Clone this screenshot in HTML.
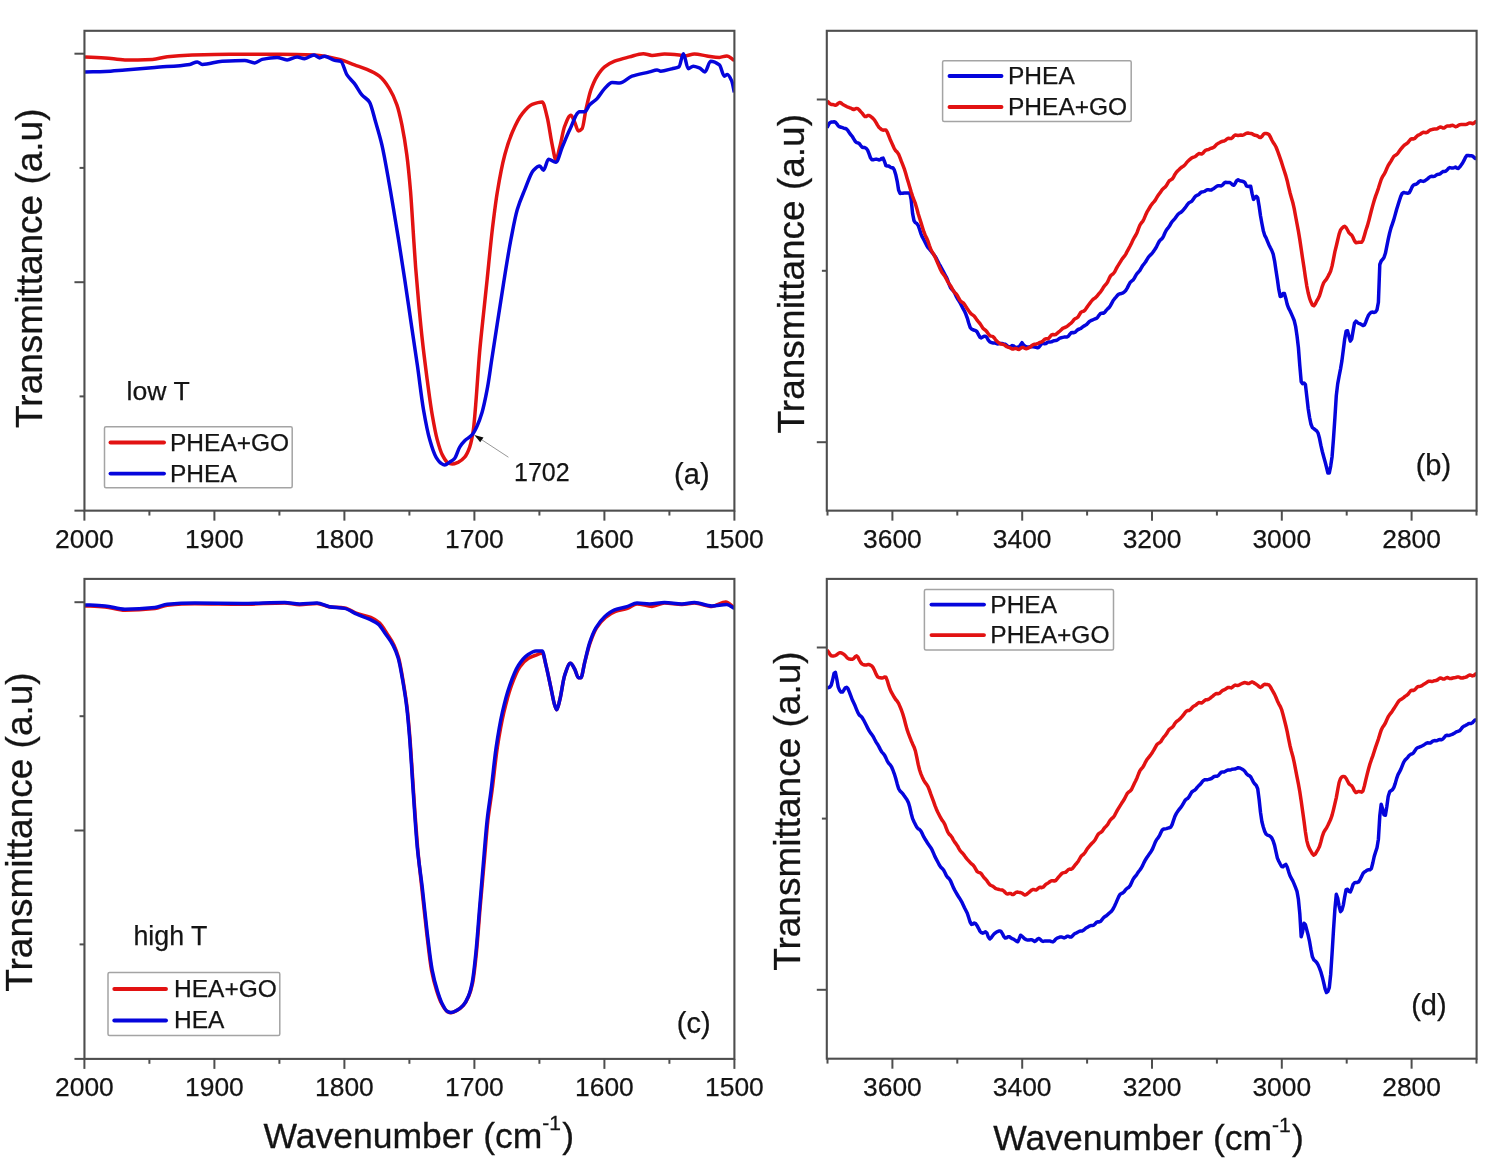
<!DOCTYPE html>
<html><head><meta charset="utf-8"><title>FTIR spectra</title>
<style>html,body{margin:0;padding:0;background:#fff;}svg{display:block;}svg text{font-family:"Liberation Sans",sans-serif;}</style></head>
<body>
<svg width="1507" height="1172" viewBox="0 0 1507 1172"  fill="#141414">
<rect width="1507" height="1172" fill="#fff"/>
<clipPath id="cpa"><rect x="84.45" y="30.8" width="649.95" height="479.85"/></clipPath>
<g clip-path="url(#cpa)">
<path d="M85.0,56.9 C91.7,57.2 98.3,57.5 105.0,57.9 C111.6,58.3 118.3,59.9 124.9,59.9 C134.1,59.9 143.2,59.7 152.4,59.4 C157.4,59.2 162.3,57.2 167.3,56.7 C175.6,55.8 184.0,55.3 192.3,55.0 C204.8,54.6 217.2,54.2 229.7,54.2 C246.3,54.2 263.0,54.2 279.6,54.2 C291.2,54.2 302.9,54.5 314.5,55.0 C322.8,55.4 331.2,57.4 339.5,59.4 C344.5,60.6 349.5,63.1 354.5,64.9 C358.6,66.4 362.8,67.6 366.9,69.4 C371.1,71.2 375.2,73.0 379.4,76.2 C382.7,78.8 386.1,83.3 389.4,88.6 C391.9,92.6 394.4,97.7 396.9,104.9 C398.6,109.7 400.2,116.8 401.9,124.8 C403.5,132.7 405.2,142.3 406.8,154.8 C408.1,164.5 409.3,176.9 410.6,192.2 C411.4,202.2 412.3,217.1 413.1,229.6 C413.9,242.1 414.8,256.0 415.6,267.0 C416.7,281.1 417.7,292.9 418.8,304.5 C420.0,317.2 421.1,329.2 422.3,339.8 C423.9,354.6 425.6,367.4 427.2,379.7 C428.9,392.3 430.5,405.0 432.2,414.7 C433.9,424.4 435.5,433.4 437.2,439.6 C438.9,445.8 440.5,451.3 442.2,454.6 C443.9,457.9 445.5,461.0 447.2,462.1 C448.9,463.2 450.5,464.1 452.2,464.1 C454.3,464.1 456.3,463.0 458.4,462.1 C460.5,461.1 462.6,459.5 464.7,457.1 C466.4,455.2 468.0,451.9 469.7,447.1 C470.9,443.6 472.2,438.0 473.4,429.6 C474.2,423.9 475.1,412.2 475.9,402.2 C477.1,387.4 478.4,366.3 479.6,352.3 C480.9,337.9 482.1,327.1 483.4,314.9 C484.6,303.0 485.9,291.7 487.1,279.9 C488.8,263.3 490.6,244.2 492.3,229.6 C494.0,215.6 495.6,202.3 497.3,192.2 C499.8,177.0 502.3,164.2 504.8,154.8 C507.3,145.4 509.8,138.1 512.3,132.3 C515.6,124.5 519.0,117.7 522.3,113.6 C525.6,109.5 528.9,105.7 532.2,104.4 C535.5,103.1 538.9,101.9 542.2,101.9 C543.9,101.9 545.5,110.7 547.2,117.3 C548.9,123.9 550.5,137.1 552.2,144.8 C553.4,150.5 554.7,159.7 555.9,159.7 C557.2,159.7 558.4,151.9 559.7,147.3 C561.4,141.2 563.0,130.3 564.7,126.1 C566.8,120.9 568.8,115.3 570.9,115.3 C572.2,115.3 573.4,119.7 574.7,122.3 C575.9,124.8 577.2,131.0 578.4,131.0 C579.6,131.0 580.9,130.0 582.1,128.6 C583.4,127.2 584.6,115.4 585.9,109.8 C587.6,102.4 589.2,94.7 590.9,89.9 C593.0,84.0 595.0,79.5 597.1,76.2 C599.6,72.2 602.1,68.9 604.6,66.9 C607.9,64.2 611.3,62.5 614.6,61.2 C619.6,59.3 624.5,58.2 629.5,56.9 C634.1,55.7 638.7,53.7 643.3,53.7 C646.2,53.7 649.1,55.4 652.0,55.4 C656.2,55.4 660.3,54.0 664.5,54.0 C669.5,54.0 674.4,54.5 679.4,55.0 C681.1,55.2 682.7,55.9 684.4,55.9 C687.7,55.9 691.1,54.0 694.4,54.0 C698.6,54.0 702.7,55.3 706.9,55.9 C711.1,56.5 715.2,57.4 719.4,57.4 C721.9,57.4 724.3,55.9 726.8,55.9 C729.3,55.9 731.8,58.9 734.3,60.4" fill="none" stroke="#e21212" stroke-width="3.5" stroke-linejoin="round" stroke-linecap="butt"/>
<path d="M85.0,71.9 C91.7,71.7 98.3,71.7 105.0,71.4 C111.6,71.2 118.3,70.4 124.9,69.9 C134.9,69.1 144.9,68.2 154.9,67.4 C166.5,66.4 178.2,66.2 189.8,64.4 C192.3,64.0 194.8,61.9 197.3,61.9 C199.0,61.9 200.6,64.4 202.3,64.4 C208.9,64.4 215.6,61.6 222.2,61.2 C229.7,60.8 237.2,60.4 244.7,60.4 C248.0,60.4 251.4,62.9 254.7,62.9 C257.2,62.9 259.6,59.9 262.1,59.4 C267.1,58.3 272.1,57.4 277.1,57.4 C280.4,57.4 283.8,59.9 287.1,59.9 C290.4,59.9 293.8,56.9 297.1,56.9 C299.6,56.9 302.1,58.7 304.6,58.7 C307.7,58.7 310.9,55.0 314.0,55.0 C315.8,55.0 317.7,57.9 319.5,57.9 C321.2,57.9 322.8,56.2 324.5,56.2 C327.8,56.2 331.2,59.8 334.5,60.4 C336.6,60.8 338.6,60.7 340.7,61.2 C342.8,61.7 344.9,71.7 347.0,74.9 C349.5,78.7 352.0,80.3 354.5,83.6 C357.0,86.9 359.4,92.0 361.9,94.9 C364.4,97.8 366.9,98.2 369.4,101.9 C371.5,105.0 373.6,115.1 375.7,122.3 C377.8,129.4 379.8,135.9 381.9,144.8 C384.4,155.5 386.9,170.6 389.4,184.7 C391.9,198.8 394.4,214.4 396.9,229.6 C397.5,233.0 398.0,236.5 398.6,240.0 C400.7,252.9 402.7,266.2 404.8,279.9 C406.9,293.6 408.9,308.3 411.0,322.3 C413.1,336.6 415.2,350.1 417.3,364.8 C419.4,379.2 421.4,397.7 423.5,409.7 C425.6,421.7 427.6,432.3 429.7,439.6 C431.8,447.0 433.9,453.6 436.0,457.1 C437.7,459.9 439.3,462.2 441.0,463.3 C442.2,464.1 443.5,465.0 444.7,465.0 C446.4,465.0 448.0,463.2 449.7,462.1 C451.4,461.0 453.0,460.2 454.7,458.3 C456.4,456.4 458.0,449.8 459.7,447.1 C461.4,444.4 463.0,442.5 464.7,440.8 C467.2,438.3 469.7,437.5 472.2,434.6 C473.8,432.7 475.5,429.4 477.1,425.9 C478.8,422.3 480.4,417.9 482.1,412.2 C483.8,406.5 485.4,398.6 487.1,389.7 C488.8,380.8 490.4,368.1 492.1,357.3 C493.8,346.5 495.4,335.6 497.1,324.8 C499.2,311.4 501.2,297.7 503.3,284.9 C505.8,269.4 508.3,253.1 510.8,240.0 C513.0,228.7 515.1,217.0 517.3,209.6 C519.8,201.1 522.3,195.8 524.8,189.7 C527.7,182.6 530.6,173.1 533.5,170.2 C535.6,168.1 537.6,166.0 539.7,166.0 C541.0,166.0 542.2,170.2 543.5,170.2 C545.2,170.2 546.8,159.2 548.5,159.2 C551.0,159.2 553.4,162.2 555.9,162.2 C558.0,162.2 560.1,152.2 562.2,147.3 C564.7,141.4 567.2,134.9 569.7,129.8 C573.0,123.0 576.3,111.8 579.6,111.8 C581.3,111.8 582.9,111.8 584.6,111.8 C586.3,111.8 587.9,106.7 589.6,104.9 C592.1,102.2 594.6,101.2 597.1,98.6 C599.6,96.0 602.1,91.2 604.6,88.6 C607.1,86.0 609.6,82.4 612.1,82.4 C614.6,82.4 617.1,82.9 619.6,82.9 C623.7,82.9 627.9,77.6 632.0,76.2 C637.8,74.2 643.7,73.4 649.5,71.9 C652.0,71.3 654.5,69.9 657.0,69.9 C658.2,69.9 659.5,71.2 660.7,71.2 C664.5,71.2 668.2,69.6 672.0,68.7 C674.3,68.1 676.6,68.1 678.9,66.9 C680.4,66.1 681.9,53.7 683.4,53.7 C685.0,53.7 686.6,68.7 688.2,68.7 C689.9,68.7 691.5,66.2 693.2,66.2 C695.3,66.2 697.3,67.1 699.4,67.9 C701.2,68.6 703.1,71.9 704.9,71.9 C706.8,71.9 708.7,61.2 710.6,61.2 C713.5,61.2 716.5,62.7 719.4,64.9 C721.1,66.2 722.7,76.2 724.4,76.2 C725.4,76.2 726.3,74.4 727.3,74.4 C728.8,74.4 730.3,77.6 731.8,81.1 C732.6,83.1 733.5,88.6 734.3,92.4" fill="none" stroke="#0505dc" stroke-width="3.5" stroke-linejoin="round" stroke-linecap="butt"/>
</g>
<rect x="84.45" y="30.8" width="649.95" height="479.85" fill="none" stroke="#4e4e4e" stroke-width="2.1"/>
<line x1="84.40" y1="510.65" x2="84.40" y2="520.65" stroke="#4e4e4e" stroke-width="2.0"/>
<text x="84.4" y="547.7" font-size="26.4" text-anchor="middle" stroke="#141414" stroke-width="0.25" >2000</text>
<line x1="214.40" y1="510.65" x2="214.40" y2="520.65" stroke="#4e4e4e" stroke-width="2.0"/>
<text x="214.4" y="547.7" font-size="26.4" text-anchor="middle" stroke="#141414" stroke-width="0.25" >1900</text>
<line x1="344.40" y1="510.65" x2="344.40" y2="520.65" stroke="#4e4e4e" stroke-width="2.0"/>
<text x="344.4" y="547.7" font-size="26.4" text-anchor="middle" stroke="#141414" stroke-width="0.25" >1800</text>
<line x1="474.40" y1="510.65" x2="474.40" y2="520.65" stroke="#4e4e4e" stroke-width="2.0"/>
<text x="474.4" y="547.7" font-size="26.4" text-anchor="middle" stroke="#141414" stroke-width="0.25" >1700</text>
<line x1="604.40" y1="510.65" x2="604.40" y2="520.65" stroke="#4e4e4e" stroke-width="2.0"/>
<text x="604.4" y="547.7" font-size="26.4" text-anchor="middle" stroke="#141414" stroke-width="0.25" >1600</text>
<line x1="734.40" y1="510.65" x2="734.40" y2="520.65" stroke="#4e4e4e" stroke-width="2.0"/>
<text x="734.4" y="547.7" font-size="26.4" text-anchor="middle" stroke="#141414" stroke-width="0.25" >1500</text>
<line x1="149.40" y1="510.65" x2="149.40" y2="515.55" stroke="#4e4e4e" stroke-width="2.0"/>
<line x1="279.40" y1="510.65" x2="279.40" y2="515.55" stroke="#4e4e4e" stroke-width="2.0"/>
<line x1="409.40" y1="510.65" x2="409.40" y2="515.55" stroke="#4e4e4e" stroke-width="2.0"/>
<line x1="539.40" y1="510.65" x2="539.40" y2="515.55" stroke="#4e4e4e" stroke-width="2.0"/>
<line x1="669.40" y1="510.65" x2="669.40" y2="515.55" stroke="#4e4e4e" stroke-width="2.0"/>
<line x1="74.45" y1="53.70" x2="84.45" y2="53.70" stroke="#4e4e4e" stroke-width="2.0"/>
<line x1="74.45" y1="282.20" x2="84.45" y2="282.20" stroke="#4e4e4e" stroke-width="2.0"/>
<line x1="74.45" y1="510.65" x2="84.45" y2="510.65" stroke="#4e4e4e" stroke-width="2.0"/>
<line x1="79.55" y1="167.90" x2="84.45" y2="167.90" stroke="#4e4e4e" stroke-width="2.0"/>
<line x1="79.55" y1="396.40" x2="84.45" y2="396.40" stroke="#4e4e4e" stroke-width="2.0"/>
<clipPath id="cpc"><rect x="84.45" y="578.9" width="649.95" height="480.00"/></clipPath>
<g clip-path="url(#cpc)">
<path d="M85.0,605.9 C91.7,606.2 98.3,606.4 105.0,606.9 C111.6,607.4 118.3,610.2 124.9,610.2 C134.9,610.2 144.9,609.5 154.9,608.4 C159.0,608.0 163.2,605.6 167.3,605.2 C176.5,604.3 185.6,603.7 194.8,603.7 C210.6,603.7 226.4,604.2 242.2,604.2 C256.3,604.2 270.5,603.0 284.6,603.0 C289.6,603.0 294.6,604.7 299.6,604.7 C305.4,604.7 311.2,603.4 317.0,603.4 C321.2,603.4 325.3,606.4 329.5,606.9 C334.5,607.4 339.5,607.3 344.5,607.9 C348.6,608.4 352.8,611.9 356.9,613.4 C361.5,615.0 366.1,615.5 370.7,617.4 C373.6,618.6 376.5,620.4 379.4,622.9 C381.9,625.1 384.4,629.6 386.9,633.4 C389.2,636.9 391.6,640.0 393.9,644.9 C395.5,648.2 397.0,652.2 398.6,657.8 C400.2,663.5 401.8,673.4 403.4,682.8 C404.6,690.1 405.9,697.4 407.1,707.7 C408.1,716.1 409.1,727.6 410.1,740.2 C410.9,750.7 411.8,765.1 412.6,777.6 C413.4,790.1 414.3,803.4 415.1,815.0 C415.9,826.6 416.8,838.2 417.6,847.5 C419.0,863.2 420.4,874.7 421.8,887.8 C423.4,903.1 425.1,918.9 426.7,932.7 C428.3,946.2 429.9,961.6 431.5,970.1 C433.2,978.9 434.8,984.8 436.5,990.1 C438.2,995.6 440.0,1000.6 441.7,1003.8 C443.5,1007.2 445.4,1010.7 447.2,1011.6 C448.4,1012.2 449.7,1012.8 450.9,1012.8 C453.0,1012.8 455.1,1011.4 457.2,1010.3 C459.3,1009.2 461.3,1007.6 463.4,1005.3 C465.2,1003.3 466.9,1000.4 468.7,996.3 C470.0,993.2 471.4,989.0 472.7,982.6 C473.9,976.6 475.2,964.7 476.4,952.7 C477.6,940.7 478.9,922.2 480.1,907.8 C481.4,892.2 482.8,877.8 484.1,862.9 C485.4,848.7 486.6,831.5 487.9,820.4 C489.3,808.1 490.7,800.8 492.1,790.1 C493.8,776.9 495.6,759.0 497.3,747.7 C499.5,733.5 501.6,722.0 503.8,712.7 C506.4,701.6 508.9,692.3 511.5,685.3 C514.3,677.6 517.2,670.4 520.0,666.6 C522.8,662.8 525.7,660.0 528.5,658.3 C531.2,656.7 534.0,655.8 536.7,654.8 C538.5,654.1 540.4,652.9 542.2,652.9 C543.5,652.9 544.7,660.5 546.0,665.3 C547.6,671.5 549.3,680.3 550.9,687.8 C552.2,693.6 553.4,701.5 554.7,705.2 C555.4,707.1 556.0,709.7 556.7,709.7 C557.7,709.7 558.7,704.1 559.7,700.3 C561.4,694.0 563.0,680.3 564.7,675.3 C566.6,669.6 568.5,663.3 570.4,663.3 C571.8,663.3 573.3,666.6 574.7,669.1 C575.9,671.2 577.2,677.8 578.4,677.8 C579.2,677.8 580.1,677.8 580.9,677.8 C582.1,677.8 583.4,667.5 584.6,662.8 C586.4,655.8 588.3,648.1 590.1,642.9 C592.3,636.8 594.4,631.3 596.6,627.9 C599.6,623.2 602.6,619.8 605.6,617.4 C608.9,614.7 612.3,612.6 615.6,611.4 C619.6,610.0 623.5,609.7 627.5,608.4 C630.7,607.3 633.8,603.9 637.0,603.9 C642.0,603.9 647.0,606.4 652.0,606.4 C656.2,606.4 660.3,603.0 664.5,603.0 C670.3,603.0 676.1,604.4 681.9,604.4 C686.1,604.4 690.2,603.0 694.4,603.0 C700.2,603.0 706.1,606.4 711.9,606.4 C716.5,606.4 721.2,602.0 725.8,602.0 C728.6,602.0 731.5,605.9 734.3,607.9" fill="none" stroke="#e21212" stroke-width="3.5" stroke-linejoin="round" stroke-linecap="butt"/>
<path d="M85.0,604.9 C91.7,605.2 98.3,605.4 105.0,605.9 C111.6,606.4 118.3,609.2 124.9,609.2 C134.9,609.2 144.9,608.5 154.9,607.4 C159.0,607.0 163.2,604.5 167.3,604.2 C176.5,603.4 185.6,603.0 194.8,603.0 C210.6,603.0 226.4,603.4 242.2,603.4 C256.3,603.4 270.5,602.5 284.6,602.5 C289.6,602.5 294.6,603.9 299.6,603.9 C305.4,603.9 311.2,603.0 317.0,603.0 C321.2,603.0 325.3,606.0 329.5,606.7 C334.5,607.5 339.5,607.5 344.5,608.4 C348.6,609.2 352.8,612.4 356.9,614.2 C361.1,616.0 365.2,617.2 369.4,619.2 C372.3,620.6 375.3,621.8 378.2,624.2 C380.7,626.2 383.1,630.6 385.6,634.1 C388.1,637.6 390.6,640.6 393.1,645.4 C394.8,648.6 396.4,652.3 398.1,657.8 C399.8,663.3 401.4,673.2 403.1,682.8 C404.3,689.9 405.6,697.4 406.8,707.7 C407.8,716.1 408.8,727.6 409.8,740.2 C410.6,750.7 411.5,765.1 412.3,777.6 C413.1,790.1 414.0,803.4 414.8,815.0 C415.6,826.6 416.5,839.0 417.3,847.5 C419.0,864.5 420.6,873.5 422.3,887.8 C423.9,901.8 425.6,919.2 427.2,932.7 C428.9,946.4 430.5,961.4 432.2,970.1 C433.9,978.8 435.5,984.7 437.2,990.1 C438.9,995.5 440.5,1000.6 442.2,1003.8 C443.9,1007.0 445.5,1010.4 447.2,1011.3 C448.4,1012.0 449.7,1012.6 450.9,1012.6 C453.0,1012.6 455.1,1011.2 457.2,1010.1 C459.3,1009.0 461.3,1007.4 463.4,1005.1 C465.1,1003.2 466.7,1000.3 468.4,996.3 C469.7,993.3 470.9,988.9 472.2,982.6 C473.4,976.4 474.7,964.7 475.9,952.7 C477.1,940.7 478.4,922.6 479.6,907.8 C480.9,892.6 482.1,877.7 483.4,862.9 C484.6,848.5 485.9,831.7 487.1,820.4 C488.4,808.2 489.8,800.7 491.1,790.1 C492.8,776.8 494.4,759.1 496.1,747.7 C498.2,733.6 500.2,721.9 502.3,712.7 C504.8,701.5 507.3,692.4 509.8,685.3 C512.7,677.1 515.6,669.7 518.5,665.3 C521.4,660.9 524.3,657.3 527.2,655.3 C530.1,653.3 533.1,650.9 536.0,650.9 C538.1,650.9 540.1,650.9 542.2,650.9 C543.5,650.9 544.7,660.1 546.0,665.3 C547.6,672.1 549.3,680.3 550.9,687.8 C552.2,693.6 553.4,701.5 554.7,705.2 C555.4,707.1 556.0,709.7 556.7,709.7 C557.7,709.7 558.7,704.1 559.7,700.3 C561.4,694.0 563.0,680.3 564.7,675.3 C566.6,669.6 568.5,663.3 570.4,663.3 C571.8,663.3 573.3,666.6 574.7,669.1 C575.9,671.2 577.2,677.8 578.4,677.8 C579.2,677.8 580.1,677.8 580.9,677.8 C582.1,677.8 583.4,667.8 584.6,662.8 C586.3,656.1 587.9,647.9 589.6,642.9 C591.7,636.6 593.8,631.5 595.9,627.9 C598.8,623.0 601.7,619.3 604.6,616.7 C607.9,613.7 611.3,611.2 614.6,609.9 C618.7,608.3 622.9,608.0 627.0,606.7 C630.3,605.7 633.7,603.0 637.0,603.0 C641.2,603.0 645.3,603.9 649.5,603.9 C654.5,603.9 659.5,602.5 664.5,602.5 C670.3,602.5 676.1,603.9 681.9,603.9 C686.1,603.9 690.2,602.5 694.4,602.5 C700.2,602.5 706.1,605.9 711.9,605.9 C716.9,605.9 721.8,604.4 726.8,604.4 C729.3,604.4 731.8,607.1 734.3,608.4" fill="none" stroke="#0505dc" stroke-width="3.5" stroke-linejoin="round" stroke-linecap="butt"/>
</g>
<rect x="84.45" y="578.9" width="649.95" height="480.00" fill="none" stroke="#4e4e4e" stroke-width="2.1"/>
<line x1="84.40" y1="1058.90" x2="84.40" y2="1068.90" stroke="#4e4e4e" stroke-width="2.0"/>
<text x="84.4" y="1096.3" font-size="26.4" text-anchor="middle" stroke="#141414" stroke-width="0.25" >2000</text>
<line x1="214.40" y1="1058.90" x2="214.40" y2="1068.90" stroke="#4e4e4e" stroke-width="2.0"/>
<text x="214.4" y="1096.3" font-size="26.4" text-anchor="middle" stroke="#141414" stroke-width="0.25" >1900</text>
<line x1="344.40" y1="1058.90" x2="344.40" y2="1068.90" stroke="#4e4e4e" stroke-width="2.0"/>
<text x="344.4" y="1096.3" font-size="26.4" text-anchor="middle" stroke="#141414" stroke-width="0.25" >1800</text>
<line x1="474.40" y1="1058.90" x2="474.40" y2="1068.90" stroke="#4e4e4e" stroke-width="2.0"/>
<text x="474.4" y="1096.3" font-size="26.4" text-anchor="middle" stroke="#141414" stroke-width="0.25" >1700</text>
<line x1="604.40" y1="1058.90" x2="604.40" y2="1068.90" stroke="#4e4e4e" stroke-width="2.0"/>
<text x="604.4" y="1096.3" font-size="26.4" text-anchor="middle" stroke="#141414" stroke-width="0.25" >1600</text>
<line x1="734.40" y1="1058.90" x2="734.40" y2="1068.90" stroke="#4e4e4e" stroke-width="2.0"/>
<text x="734.4" y="1096.3" font-size="26.4" text-anchor="middle" stroke="#141414" stroke-width="0.25" >1500</text>
<line x1="149.40" y1="1058.90" x2="149.40" y2="1063.80" stroke="#4e4e4e" stroke-width="2.0"/>
<line x1="279.40" y1="1058.90" x2="279.40" y2="1063.80" stroke="#4e4e4e" stroke-width="2.0"/>
<line x1="409.40" y1="1058.90" x2="409.40" y2="1063.80" stroke="#4e4e4e" stroke-width="2.0"/>
<line x1="539.40" y1="1058.90" x2="539.40" y2="1063.80" stroke="#4e4e4e" stroke-width="2.0"/>
<line x1="669.40" y1="1058.90" x2="669.40" y2="1063.80" stroke="#4e4e4e" stroke-width="2.0"/>
<line x1="74.45" y1="602.20" x2="84.45" y2="602.20" stroke="#4e4e4e" stroke-width="2.0"/>
<line x1="74.45" y1="830.50" x2="84.45" y2="830.50" stroke="#4e4e4e" stroke-width="2.0"/>
<line x1="74.45" y1="1058.90" x2="84.45" y2="1058.90" stroke="#4e4e4e" stroke-width="2.0"/>
<line x1="79.55" y1="716.20" x2="84.45" y2="716.20" stroke="#4e4e4e" stroke-width="2.0"/>
<line x1="79.55" y1="944.40" x2="84.45" y2="944.40" stroke="#4e4e4e" stroke-width="2.0"/>
<clipPath id="cpb"><rect x="826.8" y="30.8" width="649.80" height="479.85"/></clipPath>
<g clip-path="url(#cpb)">
<polyline points="827.0,127.7 828.4,124.9 829.8,122.8 831.2,122.1 832.6,122.1 834.0,121.8 835.4,122.2 836.8,123.8 838.2,125.8 839.6,126.8 841.0,127.2 842.4,127.7 843.8,128.2 845.2,128.4 846.6,129.1 848.0,130.7 849.4,132.9 850.9,134.8 852.3,136.5 853.7,138.8 855.1,141.2 856.5,142.6 857.9,142.9 859.3,143.6 860.7,145.5 862.1,147.2 863.5,147.6 864.9,147.6 866.3,148.5 867.7,150.3 869.1,153.9 870.5,157.8 871.9,159.7 873.3,159.7 874.7,159.4 876.1,159.1 877.5,159.4 878.9,160.0 880.3,159.6 881.7,158.4 883.1,158.1 884.5,161.5 885.9,165.6 887.3,166.1 888.7,166.0 890.1,167.0 891.5,167.8 892.9,167.7 894.3,169.9 895.7,174.4 897.2,181.3 898.6,190.0 900.0,193.4 901.4,193.3 902.8,193.3 904.2,193.1 905.6,192.9 907.0,193.0 908.4,193.1 909.8,192.9 911.2,200.0 912.6,213.6 914.0,220.7 915.4,222.6 916.8,223.5 918.2,225.5 919.6,229.5 921.0,233.9 922.4,237.2 923.8,239.7 925.2,242.4 926.6,245.3 928.0,247.6 929.4,249.2 930.8,250.8 932.2,252.7 933.6,254.4 935.0,256.2 936.4,258.5 937.8,261.4 939.2,264.1 940.6,266.5 942.0,269.1 943.5,271.9 944.9,274.5 946.3,277.0 947.7,280.3 949.1,284.3 950.5,287.6 951.9,289.4 953.3,290.7 954.7,293.0 956.1,296.1 957.5,298.7 958.9,300.8 960.3,303.2 961.7,305.9 963.1,308.6 964.5,311.1 965.9,314.3 967.3,318.1 968.7,323.0 970.1,327.3 971.5,329.0 972.9,329.8 974.3,330.2 975.7,330.6 977.1,331.9 978.5,334.6 979.9,337.2 981.3,337.9 982.7,337.0 984.1,336.2 985.5,336.2 986.9,337.5 988.3,340.2 989.8,341.9 991.2,342.5 992.6,342.9 994.0,342.9 995.4,343.1 996.8,343.7 998.2,343.9 999.6,343.6 1001.0,343.4 1002.4,343.6 1003.8,344.0 1005.2,344.3 1006.6,345.2 1008.0,346.6 1009.4,347.2 1010.8,346.4 1012.2,345.6 1013.6,346.0 1015.0,347.1 1016.4,347.5 1017.8,347.1 1019.2,346.9 1020.6,344.7 1022.0,342.7 1023.4,344.7 1024.8,346.1 1026.2,346.8 1027.6,347.2 1029.0,346.9 1030.4,346.6 1031.8,346.7 1033.2,346.8 1034.6,347.0 1036.1,347.4 1037.5,347.8 1038.9,347.3 1040.3,345.5 1041.7,343.7 1043.1,343.4 1044.5,343.7 1045.9,343.5 1047.3,342.5 1048.7,341.9 1050.1,341.9 1051.5,341.8 1052.9,341.2 1054.3,340.7 1055.7,340.6 1057.1,340.1 1058.5,339.1 1059.9,338.1 1061.3,337.7 1062.7,337.4 1064.1,337.1 1065.5,337.0 1066.9,337.0 1068.3,336.2 1069.7,334.4 1071.1,332.8 1072.5,332.5 1073.9,332.7 1075.3,332.1 1076.7,330.6 1078.1,329.5 1079.5,329.0 1080.9,328.4 1082.4,327.2 1083.8,326.1 1085.2,325.4 1086.6,324.5 1088.0,323.0 1089.4,321.5 1090.8,320.7 1092.2,320.1 1093.6,319.5 1095.0,318.9 1096.4,318.3 1097.8,317.1 1099.2,315.1 1100.6,313.4 1102.0,313.1 1103.4,313.2 1104.8,312.3 1106.2,310.4 1107.6,308.9 1109.0,307.6 1110.4,305.7 1111.8,303.1 1113.2,300.5 1114.6,298.7 1116.0,297.1 1117.4,295.4 1118.8,294.1 1120.2,293.7 1121.6,293.5 1123.0,292.9 1124.4,291.8 1125.8,290.4 1127.2,288.1 1128.7,285.1 1130.1,282.5 1131.5,281.2 1132.9,280.2 1134.3,278.3 1135.7,275.6 1137.1,273.4 1138.5,272.0 1139.9,270.3 1141.3,267.8 1142.7,265.5 1144.1,263.8 1145.5,262.0 1146.9,259.6 1148.3,257.3 1149.7,255.7 1151.1,254.4 1152.5,252.8 1153.9,250.9 1155.3,248.8 1156.7,246.3 1158.1,243.4 1159.5,241.0 1160.9,239.6 1162.3,238.3 1163.7,235.8 1165.1,232.5 1166.5,229.9 1167.9,228.2 1169.3,226.3 1170.7,223.8 1172.1,221.6 1173.5,220.1 1174.9,218.6 1176.4,216.5 1177.8,214.5 1179.2,213.3 1180.6,212.5 1182.0,211.4 1183.4,209.8 1184.8,208.2 1186.2,206.3 1187.6,204.3 1189.0,202.7 1190.4,202.0 1191.8,201.2 1193.2,199.4 1194.6,197.2 1196.0,195.8 1197.4,195.2 1198.8,194.4 1200.2,193.0 1201.6,191.9 1203.0,191.7 1204.4,191.4 1205.8,190.6 1207.2,189.8 1208.6,189.8 1210.0,190.1 1211.4,189.9 1212.8,189.1 1214.2,188.2 1215.6,187.2 1217.0,186.2 1218.4,185.7 1219.8,185.8 1221.2,185.9 1222.7,184.8 1224.1,183.1 1225.5,182.3 1226.9,182.5 1228.3,182.5 1229.7,182.5 1231.1,183.4 1232.5,184.9 1233.9,185.3 1235.3,183.2 1236.7,180.6 1238.1,179.7 1239.5,180.6 1240.9,181.1 1242.3,181.3 1243.7,181.7 1245.1,182.9 1246.5,186.0 1247.9,186.4 1249.3,186.3 1250.7,186.3 1252.1,193.7 1253.5,199.4 1254.9,197.6 1256.3,196.3 1257.7,197.7 1259.1,206.0 1260.5,215.7 1261.9,223.5 1263.3,230.7 1264.7,235.3 1266.1,237.9 1267.5,241.3 1269.0,244.9 1270.4,247.8 1271.8,250.5 1273.2,254.2 1274.6,261.1 1276.0,270.4 1277.4,279.4 1278.8,289.4 1280.2,296.5 1281.6,296.1 1283.0,293.5 1284.4,293.6 1285.8,298.4 1287.2,304.3 1288.6,308.1 1290.0,310.8 1291.4,313.9 1292.8,317.1 1294.2,320.5 1295.6,326.3 1297.0,335.8 1298.4,347.5 1299.8,365.7 1301.2,381.7 1302.6,383.7 1304.0,383.0 1305.4,384.4 1306.8,396.4 1308.2,408.8 1309.6,417.5 1311.0,424.3 1312.4,427.6 1313.8,428.6 1315.3,429.8 1316.7,430.9 1318.1,433.1 1319.5,438.3 1320.9,445.4 1322.3,451.5 1323.7,456.7 1325.1,461.8 1326.5,467.2 1327.9,473.0 1329.3,472.9 1330.7,466.1 1332.1,456.4 1333.5,438.4 1334.9,417.8 1336.3,395.6 1337.7,383.9 1339.1,376.2 1340.5,369.1 1341.9,360.9 1343.3,350.0 1344.7,339.0 1346.1,331.2 1347.5,330.7 1348.9,336.1 1350.3,341.1 1351.7,339.0 1353.1,330.9 1354.5,323.0 1355.9,321.2 1357.3,322.4 1358.7,323.4 1360.1,323.8 1361.6,324.6 1363.0,325.6 1364.4,324.9 1365.8,321.9 1367.2,318.1 1368.6,315.0 1370.0,313.3 1371.4,312.2 1372.8,312.1 1374.2,312.5 1375.6,311.9 1377.0,309.7 1378.4,302.2 1379.8,264.5 1381.2,261.0 1382.6,259.4 1384.0,257.4 1385.4,253.3 1386.8,246.4 1388.2,239.4 1389.6,233.1 1391.0,227.9 1392.4,223.9 1393.8,219.6 1395.2,214.6 1396.6,209.5 1398.0,205.0 1399.4,200.5 1400.8,196.2 1402.2,193.4 1403.6,192.5 1405.0,192.8 1406.4,193.0 1407.9,193.3 1409.3,192.6 1410.7,190.1 1412.1,186.9 1413.5,185.0 1414.9,184.4 1416.3,184.2 1417.7,183.1 1419.1,181.5 1420.5,180.8 1421.9,181.1 1423.3,181.4 1424.7,180.9 1426.1,179.9 1427.5,178.8 1428.9,177.6 1430.3,176.6 1431.7,176.3 1433.1,176.5 1434.5,176.3 1435.9,175.3 1437.3,174.5 1438.7,174.3 1440.1,173.8 1441.5,172.7 1442.9,171.6 1444.3,171.4 1445.7,171.2 1447.1,170.0 1448.5,168.3 1449.9,167.6 1451.3,167.9 1452.7,168.1 1454.2,167.6 1455.6,167.0 1457.0,168.3 1458.4,168.4 1459.8,166.9 1461.2,165.0 1462.6,163.0 1464.0,160.4 1465.4,157.5 1466.8,155.5 1468.2,155.4 1469.6,155.8 1471.0,155.7 1472.4,156.0 1473.8,157.1 1475.2,158.4 1476.6,158.6" fill="none" stroke="#0505dc" stroke-width="3.5" stroke-linejoin="round" stroke-linecap="butt"/>
<polyline points="827.0,101.0 828.4,102.2 829.8,103.7 831.2,104.4 832.6,104.5 834.0,104.9 835.4,105.3 836.8,104.7 838.2,103.2 839.6,102.5 841.0,103.0 842.4,104.1 843.8,105.0 845.2,105.7 846.6,106.5 848.0,107.2 849.4,107.7 850.9,108.1 852.3,109.0 853.7,109.5 855.1,109.0 856.5,108.4 857.9,108.7 859.3,110.0 860.7,111.6 862.1,113.1 863.5,115.1 864.9,116.5 866.3,116.4 867.7,115.6 869.1,115.5 870.5,116.3 871.9,117.4 873.3,118.7 874.7,120.3 876.1,122.6 877.5,125.1 878.9,127.2 880.3,128.5 881.7,129.6 883.1,130.2 884.5,129.9 885.9,129.9 887.3,132.1 888.7,135.7 890.1,139.2 891.5,142.4 892.9,145.5 894.3,148.6 895.7,150.7 897.2,152.1 898.6,154.2 900.0,157.6 901.4,161.4 902.8,164.9 904.2,168.6 905.6,173.1 907.0,177.9 908.4,182.5 909.8,187.2 911.2,192.0 912.6,196.3 914.0,200.0 915.4,203.7 916.8,208.5 918.2,213.7 919.6,218.3 921.0,222.6 922.4,227.2 923.8,231.7 925.2,235.2 926.6,238.0 928.0,241.3 929.4,245.5 930.8,249.4 932.2,252.0 933.6,254.1 935.0,256.9 936.4,260.1 937.8,263.4 939.2,266.6 940.6,269.8 942.0,272.5 943.5,274.4 944.9,276.3 946.3,278.8 947.7,281.6 949.1,283.7 950.5,285.7 951.9,288.2 953.3,290.8 954.7,292.7 956.1,293.9 957.5,295.8 958.9,298.5 960.3,300.9 961.7,302.0 963.1,302.7 964.5,304.3 965.9,306.6 967.3,308.8 968.7,310.8 970.1,312.7 971.5,314.2 972.9,315.2 974.3,316.2 975.7,318.1 977.1,320.2 978.5,321.9 979.9,323.5 981.3,325.6 982.7,327.9 984.1,329.3 985.5,330.2 986.9,331.7 988.3,333.9 989.8,335.7 991.2,336.1 992.6,336.4 994.0,337.6 995.4,339.6 996.8,341.2 998.2,342.3 999.6,343.4 1001.0,344.1 1002.4,344.3 1003.8,344.6 1005.2,345.5 1006.6,346.6 1008.0,347.1 1009.4,347.5 1010.8,348.3 1012.2,349.1 1013.6,349.0 1015.0,348.4 1016.4,348.4 1017.8,349.2 1019.2,349.4 1020.6,348.4 1022.0,347.4 1023.4,347.5 1024.8,348.4 1026.2,348.7 1027.6,348.3 1029.0,347.7 1030.4,346.9 1031.8,345.7 1033.2,344.6 1034.6,344.2 1036.1,344.2 1037.5,343.7 1038.9,342.9 1040.3,342.3 1041.7,341.9 1043.1,340.8 1044.5,339.4 1045.9,338.7 1047.3,338.8 1048.7,338.3 1050.1,336.6 1051.5,334.9 1052.9,334.5 1054.3,334.8 1055.7,334.5 1057.1,333.4 1058.5,332.2 1059.9,331.0 1061.3,329.7 1062.7,328.4 1064.1,327.7 1065.5,327.3 1066.9,326.5 1068.3,325.3 1069.7,324.2 1071.1,323.2 1072.5,321.6 1073.9,319.7 1075.3,318.6 1076.7,318.0 1078.1,316.8 1079.5,314.5 1080.9,312.3 1082.4,311.5 1083.8,311.1 1085.2,309.9 1086.6,307.8 1088.0,305.7 1089.4,303.9 1090.8,302.0 1092.2,300.2 1093.6,298.9 1095.0,298.1 1096.4,296.8 1097.8,295.1 1099.2,293.4 1100.6,291.8 1102.0,289.8 1103.4,287.4 1104.8,285.5 1106.2,284.1 1107.6,282.0 1109.0,278.9 1110.4,276.1 1111.8,274.7 1113.2,273.8 1114.6,272.0 1116.0,269.2 1117.4,266.6 1118.8,264.4 1120.2,262.1 1121.6,259.8 1123.0,257.9 1124.4,256.2 1125.8,254.1 1127.2,251.3 1128.7,248.6 1130.1,246.0 1131.5,243.2 1132.9,240.1 1134.3,237.5 1135.7,235.3 1137.1,232.4 1138.5,228.6 1139.9,225.1 1141.3,223.0 1142.7,221.4 1144.1,218.7 1145.5,215.3 1146.9,212.2 1148.3,209.8 1149.7,207.5 1151.1,205.2 1152.5,203.4 1153.9,201.9 1155.3,200.1 1156.7,197.7 1158.1,195.4 1159.5,193.5 1160.9,191.6 1162.3,189.6 1163.7,188.2 1165.1,187.1 1166.5,185.4 1167.9,182.9 1169.3,180.8 1170.7,179.9 1172.1,179.1 1173.5,177.2 1174.9,174.4 1176.4,172.2 1177.8,170.8 1179.2,169.5 1180.6,168.1 1182.0,167.0 1183.4,166.2 1184.8,165.0 1186.2,163.2 1187.6,161.5 1189.0,160.2 1190.4,159.0 1191.8,157.9 1193.2,157.2 1194.6,156.9 1196.0,156.0 1197.4,154.6 1198.8,153.6 1200.2,153.8 1201.6,154.1 1203.0,153.1 1204.4,151.3 1205.8,150.1 1207.2,149.8 1208.6,149.5 1210.0,148.7 1211.4,148.2 1212.8,147.8 1214.2,147.0 1215.6,145.5 1217.0,144.1 1218.4,143.2 1219.8,142.5 1221.2,141.7 1222.7,141.3 1224.1,141.1 1225.5,140.3 1226.9,139.0 1228.3,138.2 1229.7,138.5 1231.1,138.6 1232.5,137.6 1233.9,135.9 1235.3,135.0 1236.7,135.2 1238.1,135.4 1239.5,135.2 1240.9,135.0 1242.3,135.2 1243.7,134.9 1245.1,134.0 1246.5,133.2 1247.9,133.1 1249.3,133.3 1250.7,133.4 1252.1,133.8 1253.5,134.7 1254.9,135.3 1256.3,135.5 1257.7,136.0 1259.1,137.2 1260.5,137.6 1261.9,136.4 1263.3,134.4 1264.7,133.4 1266.1,133.5 1267.5,133.8 1269.0,134.6 1270.4,137.0 1271.8,140.0 1273.2,142.5 1274.6,144.5 1276.0,147.0 1277.4,150.5 1278.8,154.4 1280.2,158.4 1281.6,162.4 1283.0,166.9 1284.4,171.3 1285.8,175.6 1287.2,180.7 1288.6,186.8 1290.0,192.7 1291.4,197.7 1292.8,202.5 1294.2,208.6 1295.6,216.2 1297.0,223.8 1298.4,231.2 1299.8,239.6 1301.2,249.1 1302.6,258.5 1304.0,267.4 1305.4,277.2 1306.8,286.1 1308.2,293.0 1309.6,298.4 1311.0,302.1 1312.4,305.0 1313.8,305.8 1315.3,303.9 1316.7,301.0 1318.1,298.6 1319.5,295.8 1320.9,291.2 1322.3,286.3 1323.7,282.7 1325.1,280.8 1326.5,279.1 1327.9,276.6 1329.3,273.9 1330.7,270.9 1332.1,265.9 1333.5,258.8 1334.9,251.7 1336.3,246.0 1337.7,240.0 1339.1,234.1 1340.5,230.1 1341.9,228.3 1343.3,226.9 1344.7,226.3 1346.1,227.5 1347.5,230.0 1348.9,232.6 1350.3,234.1 1351.7,235.2 1353.1,237.7 1354.5,240.9 1355.9,242.8 1357.3,242.6 1358.7,242.2 1360.1,242.3 1361.6,242.2 1363.0,240.1 1364.4,235.4 1365.8,230.5 1367.2,226.4 1368.6,221.6 1370.0,216.0 1371.4,210.5 1372.8,205.4 1374.2,200.5 1375.6,196.1 1377.0,192.3 1378.4,188.3 1379.8,183.8 1381.2,179.5 1382.6,176.5 1384.0,174.5 1385.4,171.9 1386.8,168.5 1388.2,165.5 1389.6,163.3 1391.0,161.1 1392.4,158.6 1393.8,156.4 1395.2,155.4 1396.6,154.6 1398.0,153.1 1399.4,151.0 1400.8,149.1 1402.2,147.5 1403.6,145.9 1405.0,144.7 1406.4,143.8 1407.9,142.6 1409.3,140.8 1410.7,139.2 1412.1,138.7 1413.5,138.9 1414.9,138.3 1416.3,136.8 1417.7,135.4 1419.1,134.8 1420.5,134.1 1421.9,133.0 1423.3,132.2 1424.7,132.4 1426.1,132.7 1427.5,132.1 1428.9,130.9 1430.3,130.0 1431.7,129.6 1433.1,129.2 1434.5,129.0 1435.9,128.9 1437.3,128.7 1438.7,127.8 1440.1,127.1 1441.5,127.3 1442.9,128.1 1444.3,127.9 1445.7,126.8 1447.1,126.0 1448.5,126.0 1449.9,126.0 1451.3,125.5 1452.7,125.3 1454.2,126.0 1455.6,126.7 1457.0,126.4 1458.4,125.3 1459.8,124.7 1461.2,124.6 1462.6,124.6 1464.0,124.6 1465.4,124.5 1466.8,124.3 1468.2,123.5 1469.6,122.9 1471.0,123.1 1472.4,123.7 1473.8,123.3 1475.2,122.0 1476.6,121.1" fill="none" stroke="#e21212" stroke-width="3.5" stroke-linejoin="round" stroke-linecap="butt"/>
</g>
<rect x="826.8" y="30.8" width="649.80" height="479.85" fill="none" stroke="#4e4e4e" stroke-width="2.1"/>
<line x1="892.40" y1="510.65" x2="892.40" y2="520.65" stroke="#4e4e4e" stroke-width="2.0"/>
<text x="892.4" y="547.7" font-size="26.4" text-anchor="middle" stroke="#141414" stroke-width="0.25" >3600</text>
<line x1="1022.20" y1="510.65" x2="1022.20" y2="520.65" stroke="#4e4e4e" stroke-width="2.0"/>
<text x="1022.2" y="547.7" font-size="26.4" text-anchor="middle" stroke="#141414" stroke-width="0.25" >3400</text>
<line x1="1152.00" y1="510.65" x2="1152.00" y2="520.65" stroke="#4e4e4e" stroke-width="2.0"/>
<text x="1152.0" y="547.7" font-size="26.4" text-anchor="middle" stroke="#141414" stroke-width="0.25" >3200</text>
<line x1="1281.80" y1="510.65" x2="1281.80" y2="520.65" stroke="#4e4e4e" stroke-width="2.0"/>
<text x="1281.8" y="547.7" font-size="26.4" text-anchor="middle" stroke="#141414" stroke-width="0.25" >3000</text>
<line x1="1411.60" y1="510.65" x2="1411.60" y2="520.65" stroke="#4e4e4e" stroke-width="2.0"/>
<text x="1411.6" y="547.7" font-size="26.4" text-anchor="middle" stroke="#141414" stroke-width="0.25" >2800</text>
<line x1="827.50" y1="510.65" x2="827.50" y2="515.55" stroke="#4e4e4e" stroke-width="2.0"/>
<line x1="957.30" y1="510.65" x2="957.30" y2="515.55" stroke="#4e4e4e" stroke-width="2.0"/>
<line x1="1087.10" y1="510.65" x2="1087.10" y2="515.55" stroke="#4e4e4e" stroke-width="2.0"/>
<line x1="1216.90" y1="510.65" x2="1216.90" y2="515.55" stroke="#4e4e4e" stroke-width="2.0"/>
<line x1="1346.70" y1="510.65" x2="1346.70" y2="515.55" stroke="#4e4e4e" stroke-width="2.0"/>
<line x1="1476.50" y1="510.65" x2="1476.50" y2="515.55" stroke="#4e4e4e" stroke-width="2.0"/>
<line x1="816.80" y1="99.50" x2="826.80" y2="99.50" stroke="#4e4e4e" stroke-width="2.0"/>
<line x1="816.80" y1="442.20" x2="826.80" y2="442.20" stroke="#4e4e4e" stroke-width="2.0"/>
<line x1="821.90" y1="270.80" x2="826.80" y2="270.80" stroke="#4e4e4e" stroke-width="2.0"/>
<clipPath id="cpd"><rect x="826.8" y="578.9" width="649.80" height="479.80"/></clipPath>
<g clip-path="url(#cpd)">
<polyline points="827.0,687.5 828.4,687.7 829.8,687.1 831.2,685.2 832.6,680.0 834.0,673.5 835.4,672.4 836.8,679.0 838.2,686.9 839.6,690.4 841.0,692.1 842.4,692.1 843.8,690.2 845.2,687.8 846.6,687.3 848.0,688.8 849.4,692.1 850.9,696.2 852.3,699.8 853.7,702.8 855.1,705.8 856.5,709.3 857.9,712.7 859.3,715.0 860.7,716.1 862.1,717.5 863.5,719.8 864.9,722.5 866.3,725.3 867.7,728.1 869.1,730.8 870.5,732.9 871.9,734.6 873.3,736.7 874.7,739.5 876.1,742.1 877.5,744.2 878.9,746.6 880.3,749.4 881.7,751.9 883.1,753.4 884.5,755.1 885.9,757.9 887.3,761.1 888.7,763.3 890.1,764.7 891.5,766.7 892.9,770.0 894.3,773.8 895.7,778.2 897.2,783.9 898.6,788.6 900.0,790.9 901.4,792.3 902.8,793.7 904.2,795.8 905.6,797.8 907.0,799.8 908.4,802.6 909.8,807.3 911.2,813.5 912.6,818.6 914.0,821.7 915.4,824.5 916.8,827.2 918.2,828.8 919.6,829.6 921.0,831.2 922.4,833.9 923.8,836.9 925.2,839.3 926.6,841.5 928.0,843.8 929.4,845.7 930.8,847.7 932.2,850.2 933.6,853.4 935.0,856.7 936.4,859.3 937.8,862.0 939.2,864.7 940.6,866.9 942.0,868.3 943.5,869.9 944.9,872.5 946.3,875.4 947.7,877.4 949.1,878.6 950.5,880.7 951.9,884.0 953.3,887.4 954.7,890.1 956.1,892.6 957.5,895.0 958.9,897.3 960.3,899.4 961.7,901.8 963.1,904.8 964.5,907.8 965.9,910.5 967.3,913.3 968.7,917.5 970.1,922.0 971.5,924.4 972.9,924.0 974.3,923.0 975.7,923.6 977.1,925.7 978.5,928.3 979.9,931.1 981.3,932.7 982.7,933.2 984.1,932.6 985.5,931.8 986.9,933.0 988.3,937.0 989.8,939.0 991.2,937.7 992.6,935.8 994.0,934.0 995.4,932.8 996.8,931.8 998.2,931.3 999.6,930.9 1001.0,931.4 1002.4,933.6 1003.8,936.5 1005.2,937.9 1006.6,937.7 1008.0,936.8 1009.4,936.7 1010.8,937.8 1012.2,938.7 1013.6,939.2 1015.0,940.1 1016.4,941.2 1017.8,941.8 1019.2,938.7 1020.6,935.2 1022.0,936.1 1023.4,937.7 1024.8,938.9 1026.2,939.6 1027.6,940.0 1029.0,940.1 1030.4,939.8 1031.8,939.8 1033.2,940.6 1034.6,941.4 1036.1,940.6 1037.5,939.0 1038.9,938.4 1040.3,939.4 1041.7,940.9 1043.1,941.4 1044.5,941.1 1045.9,940.9 1047.3,941.0 1048.7,940.9 1050.1,941.0 1051.5,941.6 1052.9,941.9 1054.3,940.8 1055.7,939.1 1057.1,938.1 1058.5,937.6 1059.9,937.1 1061.3,936.9 1062.7,937.4 1064.1,937.9 1065.5,937.4 1066.9,936.3 1068.3,936.2 1069.7,936.9 1071.1,937.1 1072.5,935.9 1073.9,934.3 1075.3,933.4 1076.7,932.8 1078.1,932.0 1079.5,931.3 1080.9,931.1 1082.4,930.9 1083.8,930.0 1085.2,928.7 1086.6,927.7 1088.0,926.9 1089.4,926.1 1090.8,925.5 1092.2,925.5 1093.6,925.3 1095.0,924.0 1096.4,922.4 1097.8,921.7 1099.2,921.9 1100.6,921.4 1102.0,919.7 1103.4,917.8 1104.8,916.6 1106.2,915.9 1107.6,914.7 1109.0,913.3 1110.4,912.2 1111.8,910.9 1113.2,908.7 1114.6,906.0 1116.0,902.9 1117.4,899.6 1118.8,896.5 1120.2,894.2 1121.6,893.4 1123.0,892.8 1124.4,891.4 1125.8,889.5 1127.2,888.2 1128.7,887.4 1130.1,885.7 1131.5,882.7 1132.9,879.6 1134.3,877.5 1135.7,875.9 1137.1,873.9 1138.5,871.8 1139.9,870.0 1141.3,868.0 1142.7,865.4 1144.1,862.3 1145.5,859.7 1146.9,857.5 1148.3,855.5 1149.7,853.4 1151.1,851.4 1152.5,849.0 1153.9,845.6 1155.3,842.1 1156.7,839.5 1158.1,837.8 1159.5,835.6 1160.9,832.5 1162.3,829.9 1163.7,828.9 1165.1,828.9 1166.5,828.6 1167.9,828.1 1169.3,827.8 1170.7,827.2 1172.1,824.6 1173.5,820.4 1174.9,816.4 1176.4,813.4 1177.8,811.3 1179.2,809.4 1180.6,807.6 1182.0,805.7 1183.4,803.3 1184.8,800.8 1186.2,799.3 1187.6,798.5 1189.0,796.9 1190.4,794.3 1191.8,792.0 1193.2,791.0 1194.6,790.3 1196.0,788.9 1197.4,787.1 1198.8,785.6 1200.2,784.4 1201.6,782.6 1203.0,780.8 1204.4,779.8 1205.8,779.7 1207.2,779.7 1208.6,779.4 1210.0,779.0 1211.4,778.5 1212.8,777.5 1214.2,776.4 1215.6,776.2 1217.0,776.3 1218.4,775.5 1219.8,773.7 1221.2,772.2 1222.7,771.9 1224.1,772.0 1225.5,771.3 1226.9,770.4 1228.3,770.0 1229.7,770.0 1231.1,769.7 1232.5,769.2 1233.9,769.1 1235.3,768.9 1236.7,768.3 1238.1,767.7 1239.5,767.9 1240.9,768.5 1242.3,769.2 1243.7,770.1 1245.1,771.6 1246.5,773.7 1247.9,775.1 1249.3,775.7 1250.7,776.9 1252.1,779.5 1253.5,782.3 1254.9,784.1 1256.3,785.5 1257.7,788.7 1259.1,799.2 1260.5,812.3 1261.9,821.7 1263.3,827.0 1264.7,831.4 1266.1,834.1 1267.5,835.1 1269.0,835.6 1270.4,836.4 1271.8,838.0 1273.2,841.0 1274.6,845.4 1276.0,851.8 1277.4,858.1 1278.8,861.3 1280.2,864.0 1281.6,866.5 1283.0,866.8 1284.4,865.2 1285.8,864.4 1287.2,867.0 1288.6,871.6 1290.0,875.7 1291.4,878.3 1292.8,880.9 1294.2,884.1 1295.6,887.6 1297.0,891.4 1298.4,899.3 1299.8,913.6 1301.2,936.7 1302.6,931.7 1304.0,923.2 1305.4,924.7 1306.8,930.0 1308.2,935.3 1309.6,941.7 1311.0,949.9 1312.4,956.8 1313.8,959.8 1315.3,961.0 1316.7,962.5 1318.1,964.9 1319.5,968.1 1320.9,972.0 1322.3,976.9 1323.7,982.6 1325.1,988.9 1326.5,992.5 1327.9,991.3 1329.3,987.6 1330.7,974.2 1332.1,953.0 1333.5,930.0 1334.9,909.1 1336.3,894.3 1337.7,898.0 1339.1,906.1 1340.5,911.7 1341.9,910.1 1343.3,905.1 1344.7,896.8 1346.1,889.7 1347.5,889.3 1348.9,891.4 1350.3,892.0 1351.7,888.8 1353.1,884.4 1354.5,882.8 1355.9,882.6 1357.3,882.4 1358.7,881.8 1360.1,879.6 1361.6,876.4 1363.0,873.5 1364.4,872.0 1365.8,871.2 1367.2,870.1 1368.6,869.7 1370.0,869.8 1371.4,868.4 1372.8,863.0 1374.2,856.5 1375.6,852.0 1377.0,847.7 1378.4,839.2 1379.8,815.8 1381.2,804.2 1382.6,809.0 1384.0,814.8 1385.4,815.2 1386.8,806.7 1388.2,796.4 1389.6,791.9 1391.0,790.7 1392.4,789.8 1393.8,787.6 1395.2,783.6 1396.6,778.6 1398.0,774.7 1399.4,772.1 1400.8,769.4 1402.2,765.9 1403.6,762.4 1405.0,760.1 1406.4,758.8 1407.9,757.1 1409.3,755.3 1410.7,754.3 1412.1,753.9 1413.5,752.8 1414.9,750.7 1416.3,748.6 1417.7,747.6 1419.1,747.2 1420.5,746.6 1421.9,746.0 1423.3,745.3 1424.7,744.4 1426.1,743.4 1427.5,742.8 1428.9,743.0 1430.3,743.0 1431.7,742.0 1433.1,740.9 1434.5,740.6 1435.9,740.8 1437.3,740.5 1438.7,739.7 1440.1,739.5 1441.5,739.7 1442.9,739.0 1444.3,737.3 1445.7,735.7 1447.1,735.3 1448.5,735.4 1449.9,735.2 1451.3,734.7 1452.7,734.1 1454.2,733.3 1455.6,732.3 1457.0,731.6 1458.4,731.3 1459.8,730.6 1461.2,728.9 1462.6,727.1 1464.0,726.1 1465.4,725.6 1466.8,724.8 1468.2,723.8 1469.6,723.4 1471.0,723.5 1472.4,722.8 1473.8,721.2 1475.2,719.9 1476.6,719.9" fill="none" stroke="#0505dc" stroke-width="3.5" stroke-linejoin="round" stroke-linecap="butt"/>
<polyline points="827.0,650.2 828.4,651.8 829.8,654.2 831.2,655.7 832.6,656.0 834.0,655.9 835.4,655.6 836.8,654.8 838.2,653.5 839.6,652.8 841.0,652.8 842.4,653.4 843.8,654.2 845.2,655.5 846.6,657.2 848.0,658.5 849.4,659.1 850.9,659.3 852.3,659.3 853.7,658.5 855.1,656.8 856.5,655.9 857.9,657.1 859.3,660.0 860.7,662.5 862.1,664.0 863.5,664.7 864.9,665.0 866.3,665.0 867.7,664.6 869.1,664.6 870.5,665.2 871.9,666.0 873.3,667.9 874.7,670.8 876.1,674.2 877.5,676.7 878.9,677.5 880.3,677.7 881.7,678.0 883.1,677.7 884.5,676.9 885.9,677.2 887.3,680.6 888.7,685.4 890.1,689.5 891.5,692.4 892.9,694.8 894.3,697.3 895.7,699.5 897.2,701.2 898.6,703.4 900.0,706.6 901.4,710.0 902.8,714.0 904.2,718.8 905.6,724.3 907.0,729.4 908.4,733.4 909.8,737.1 911.2,740.7 912.6,743.9 914.0,746.9 915.4,751.0 916.8,757.4 918.2,764.4 919.6,770.0 921.0,774.1 922.4,777.4 923.8,780.3 925.2,782.6 926.6,784.3 928.0,786.6 929.4,790.2 930.8,794.2 932.2,797.9 933.6,801.6 935.0,805.6 936.4,809.2 937.8,812.2 939.2,815.0 940.6,817.7 942.0,820.1 943.5,822.0 944.9,824.6 946.3,828.3 947.7,831.9 949.1,834.1 950.5,835.4 951.9,837.2 953.3,839.8 954.7,842.1 956.1,843.9 957.5,845.9 958.9,848.6 960.3,850.9 961.7,852.4 963.1,853.7 964.5,855.6 965.9,857.7 967.3,859.4 968.7,860.9 970.1,862.4 971.5,863.8 972.9,864.9 974.3,866.6 975.7,869.1 977.1,871.5 978.5,872.4 979.9,872.7 981.3,873.7 982.7,875.8 984.1,877.7 985.5,879.1 986.9,880.7 988.3,882.9 989.8,884.7 991.2,885.5 992.6,886.1 994.0,887.2 995.4,888.3 996.8,888.9 998.2,889.2 999.6,889.6 1001.0,889.9 1002.4,890.1 1003.8,890.9 1005.2,892.5 1006.6,893.8 1008.0,894.0 1009.4,893.4 1010.8,893.6 1012.2,894.4 1013.6,894.4 1015.0,893.2 1016.4,892.2 1017.8,892.1 1019.2,892.4 1020.6,892.6 1022.0,893.1 1023.4,894.2 1024.8,895.0 1026.2,894.6 1027.6,893.5 1029.0,892.3 1030.4,891.1 1031.8,890.0 1033.2,889.4 1034.6,889.8 1036.1,890.0 1037.5,889.0 1038.9,887.7 1040.3,887.3 1041.7,887.7 1043.1,887.2 1044.5,885.7 1045.9,884.3 1047.3,883.5 1048.7,882.6 1050.1,881.5 1051.5,880.7 1052.9,880.7 1054.3,881.0 1055.7,880.5 1057.1,878.9 1058.5,877.2 1059.9,875.6 1061.3,874.0 1062.7,872.9 1064.1,872.6 1065.5,872.3 1066.9,871.1 1068.3,869.6 1069.7,869.1 1071.1,869.2 1072.5,868.4 1073.9,866.6 1075.3,864.7 1076.7,863.2 1078.1,861.5 1079.5,859.0 1080.9,856.6 1082.4,855.1 1083.8,854.0 1085.2,852.2 1086.6,849.8 1088.0,847.8 1089.4,846.1 1090.8,844.5 1092.2,843.0 1093.6,841.7 1095.0,840.0 1096.4,837.4 1097.8,834.7 1099.2,833.2 1100.6,832.5 1102.0,831.4 1103.4,829.4 1104.8,827.5 1106.2,826.2 1107.6,824.6 1109.0,822.2 1110.4,819.9 1111.8,818.5 1113.2,817.4 1114.6,815.4 1116.0,812.7 1117.4,810.1 1118.8,807.8 1120.2,805.6 1121.6,803.3 1123.0,801.2 1124.4,799.0 1125.8,796.2 1127.2,793.5 1128.7,792.0 1130.1,791.1 1131.5,789.5 1132.9,786.6 1134.3,783.5 1135.7,780.8 1137.1,777.7 1138.5,774.0 1139.9,770.8 1141.3,768.9 1142.7,767.3 1144.1,765.0 1145.5,762.1 1146.9,759.6 1148.3,757.9 1149.7,756.1 1151.1,754.2 1152.5,752.2 1153.9,749.9 1155.3,747.3 1156.7,744.8 1158.1,743.5 1159.5,742.8 1160.9,741.5 1162.3,739.2 1163.7,737.1 1165.1,735.6 1166.5,733.8 1167.9,731.4 1169.3,729.3 1170.7,728.3 1172.1,727.5 1173.5,725.8 1174.9,723.4 1176.4,721.7 1177.8,720.6 1179.2,719.6 1180.6,718.2 1182.0,716.6 1183.4,714.9 1184.8,712.9 1186.2,711.3 1187.6,710.6 1189.0,710.5 1190.4,709.6 1191.8,708.0 1193.2,706.6 1194.6,705.8 1196.0,705.0 1197.4,703.6 1198.8,702.6 1200.2,702.7 1201.6,703.0 1203.0,702.1 1204.4,700.7 1205.8,699.8 1207.2,699.7 1208.6,699.3 1210.0,698.4 1211.4,697.2 1212.8,696.1 1214.2,694.8 1215.6,693.8 1217.0,693.6 1218.4,693.7 1219.8,693.1 1221.2,691.6 1222.7,690.4 1224.1,689.8 1225.5,689.2 1226.9,688.1 1228.3,687.4 1229.7,687.6 1231.1,687.9 1232.5,687.1 1233.9,685.8 1235.3,685.1 1236.7,685.4 1238.1,685.4 1239.5,684.8 1240.9,684.0 1242.3,683.4 1243.7,682.8 1245.1,682.6 1246.5,683.0 1247.9,683.5 1249.3,683.4 1250.7,682.5 1252.1,681.9 1253.5,682.5 1254.9,683.5 1256.3,684.3 1257.7,685.3 1259.1,686.7 1260.5,687.4 1261.9,686.5 1263.3,685.0 1264.7,684.2 1266.1,684.4 1267.5,684.6 1269.0,685.0 1270.4,686.8 1271.8,689.4 1273.2,691.8 1274.6,694.4 1276.0,697.5 1277.4,700.9 1278.8,703.8 1280.2,706.3 1281.6,709.6 1283.0,714.5 1284.4,720.0 1285.8,725.5 1287.2,731.7 1288.6,738.8 1290.0,745.7 1291.4,751.2 1292.8,756.2 1294.2,762.3 1295.6,769.6 1297.0,776.9 1298.4,783.9 1299.8,791.8 1301.2,801.1 1302.6,810.9 1304.0,820.9 1305.4,831.8 1306.8,840.6 1308.2,845.7 1309.6,849.0 1311.0,851.3 1312.4,853.8 1313.8,855.2 1315.3,854.1 1316.7,851.6 1318.1,849.3 1319.5,846.5 1320.9,841.7 1322.3,836.3 1323.7,832.3 1325.1,830.0 1326.5,828.0 1327.9,825.3 1329.3,822.3 1330.7,819.3 1332.1,815.1 1333.5,809.6 1334.9,803.7 1336.3,797.6 1337.7,789.9 1339.1,782.5 1340.5,778.6 1341.9,776.9 1343.3,776.4 1344.7,776.7 1346.1,778.3 1347.5,781.0 1348.9,783.6 1350.3,784.9 1351.7,785.8 1353.1,788.0 1354.5,790.9 1355.9,792.5 1357.3,792.0 1358.7,791.4 1360.1,791.7 1361.6,792.2 1363.0,790.9 1364.4,785.9 1365.8,779.8 1367.2,774.1 1368.6,768.7 1370.0,763.8 1371.4,759.7 1372.8,755.9 1374.2,751.5 1375.6,747.1 1377.0,743.2 1378.4,739.1 1379.8,734.4 1381.2,730.1 1382.6,727.3 1384.0,725.4 1385.4,723.0 1386.8,719.7 1388.2,716.7 1389.6,714.6 1391.0,712.9 1392.4,710.9 1393.8,708.7 1395.2,706.6 1396.6,704.4 1398.0,702.1 1399.4,700.4 1400.8,699.5 1402.2,698.7 1403.6,697.6 1405.0,696.4 1406.4,695.5 1407.9,694.4 1409.3,692.5 1410.7,690.7 1412.1,690.2 1413.5,690.4 1414.9,689.7 1416.3,688.1 1417.7,686.7 1419.1,686.4 1420.5,686.3 1421.9,685.6 1423.3,684.6 1424.7,683.8 1426.1,682.9 1427.5,681.8 1428.9,681.2 1430.3,681.3 1431.7,681.5 1433.1,681.2 1434.5,680.7 1435.9,680.5 1437.3,680.0 1438.7,678.9 1440.1,678.0 1441.5,678.3 1442.9,679.1 1444.3,679.1 1445.7,678.1 1447.1,677.5 1448.5,678.0 1449.9,678.6 1451.3,678.5 1452.7,678.0 1454.2,677.7 1455.6,677.5 1457.0,677.1 1458.4,676.9 1459.8,677.5 1461.2,678.0 1462.6,678.0 1464.0,677.5 1465.4,677.2 1466.8,676.8 1468.2,675.7 1469.6,674.9 1471.0,675.2 1472.4,675.9 1473.8,675.6 1475.2,674.3 1476.6,673.4" fill="none" stroke="#e21212" stroke-width="3.5" stroke-linejoin="round" stroke-linecap="butt"/>
</g>
<rect x="826.8" y="578.9" width="649.80" height="479.80" fill="none" stroke="#4e4e4e" stroke-width="2.1"/>
<line x1="892.40" y1="1058.70" x2="892.40" y2="1068.70" stroke="#4e4e4e" stroke-width="2.0"/>
<text x="892.4" y="1096.1" font-size="26.4" text-anchor="middle" stroke="#141414" stroke-width="0.25" >3600</text>
<line x1="1022.20" y1="1058.70" x2="1022.20" y2="1068.70" stroke="#4e4e4e" stroke-width="2.0"/>
<text x="1022.2" y="1096.1" font-size="26.4" text-anchor="middle" stroke="#141414" stroke-width="0.25" >3400</text>
<line x1="1152.00" y1="1058.70" x2="1152.00" y2="1068.70" stroke="#4e4e4e" stroke-width="2.0"/>
<text x="1152.0" y="1096.1" font-size="26.4" text-anchor="middle" stroke="#141414" stroke-width="0.25" >3200</text>
<line x1="1281.80" y1="1058.70" x2="1281.80" y2="1068.70" stroke="#4e4e4e" stroke-width="2.0"/>
<text x="1281.8" y="1096.1" font-size="26.4" text-anchor="middle" stroke="#141414" stroke-width="0.25" >3000</text>
<line x1="1411.60" y1="1058.70" x2="1411.60" y2="1068.70" stroke="#4e4e4e" stroke-width="2.0"/>
<text x="1411.6" y="1096.1" font-size="26.4" text-anchor="middle" stroke="#141414" stroke-width="0.25" >2800</text>
<line x1="827.50" y1="1058.70" x2="827.50" y2="1063.60" stroke="#4e4e4e" stroke-width="2.0"/>
<line x1="957.30" y1="1058.70" x2="957.30" y2="1063.60" stroke="#4e4e4e" stroke-width="2.0"/>
<line x1="1087.10" y1="1058.70" x2="1087.10" y2="1063.60" stroke="#4e4e4e" stroke-width="2.0"/>
<line x1="1216.90" y1="1058.70" x2="1216.90" y2="1063.60" stroke="#4e4e4e" stroke-width="2.0"/>
<line x1="1346.70" y1="1058.70" x2="1346.70" y2="1063.60" stroke="#4e4e4e" stroke-width="2.0"/>
<line x1="1476.50" y1="1058.70" x2="1476.50" y2="1063.60" stroke="#4e4e4e" stroke-width="2.0"/>
<line x1="816.80" y1="647.50" x2="826.80" y2="647.50" stroke="#4e4e4e" stroke-width="2.0"/>
<line x1="816.80" y1="989.80" x2="826.80" y2="989.80" stroke="#4e4e4e" stroke-width="2.0"/>
<line x1="821.90" y1="818.60" x2="826.80" y2="818.60" stroke="#4e4e4e" stroke-width="2.0"/>
<text transform="translate(41.8,427.9) rotate(-90)" font-size="37" stroke="#141414" stroke-width="0.3">Transmittance (a.u)</text>
<text transform="translate(32.0,991.7) rotate(-90)" font-size="37" stroke="#141414" stroke-width="0.3">Transmittance (a.u)</text>
<text transform="translate(804.2,433.4) rotate(-90)" font-size="37" stroke="#141414" stroke-width="0.3">Transmittance (a.u)</text>
<text transform="translate(799.7,970.8) rotate(-90)" font-size="37" stroke="#141414" stroke-width="0.3">Transmittance (a.u)</text>
<text x="263.5" y="1147.7" font-size="35.5" stroke="#141414" stroke-width="0.3">Wavenumber (cm<tspan font-size="21" dy="-17.6">-1</tspan><tspan dy="17.6" dx="1.2">)</tspan></text>
<text x="993.3" y="1150.0" font-size="35.5" stroke="#141414" stroke-width="0.3">Wavenumber (cm<tspan font-size="21" dy="-17.6">-1</tspan><tspan dy="17.6" dx="1.2">)</tspan></text>
<rect x="104.5" y="426.7" width="187.7" height="61.0" rx="1.5" fill="#fff" stroke="#a4a4a4" stroke-width="1.5"/>
<line x1="110.5" y1="442.5" x2="164" y2="442.5" stroke="#e21212" stroke-width="3.9" stroke-linecap="round"/>
<text x="170.0" y="450.6" font-size="24.5" text-anchor="start" stroke="#141414" stroke-width="0.25" >PHEA+GO</text>
<line x1="110.5" y1="473.6" x2="164" y2="473.6" stroke="#0505dc" stroke-width="3.9" stroke-linecap="round"/>
<text x="170.0" y="481.8" font-size="24.5" text-anchor="start" stroke="#141414" stroke-width="0.25" >PHEA</text>
<rect x="108.0" y="972.6" width="171.8" height="62.999999999999886" rx="1.5" fill="#fff" stroke="#a4a4a4" stroke-width="1.5"/>
<line x1="114.3" y1="989.0" x2="166" y2="989.0" stroke="#e21212" stroke-width="3.9" stroke-linecap="round"/>
<text x="174.0" y="996.7" font-size="24.5" text-anchor="start" stroke="#141414" stroke-width="0.25" >HEA+GO</text>
<line x1="114.3" y1="1020.5" x2="166" y2="1020.5" stroke="#0505dc" stroke-width="3.9" stroke-linecap="round"/>
<text x="174.0" y="1027.7" font-size="24.5" text-anchor="start" stroke="#141414" stroke-width="0.25" >HEA</text>
<rect x="942.6" y="60.8" width="188.60000000000002" height="60.8" rx="1.5" fill="#fff" stroke="#a4a4a4" stroke-width="1.5"/>
<line x1="949.5" y1="76.0" x2="1001.5" y2="76.0" stroke="#0505dc" stroke-width="3.9" stroke-linecap="round"/>
<text x="1008.0" y="84.3" font-size="24.5" text-anchor="start" stroke="#141414" stroke-width="0.25" >PHEA</text>
<line x1="949.5" y1="107.0" x2="1001.5" y2="107.0" stroke="#e21212" stroke-width="3.9" stroke-linecap="round"/>
<text x="1008.0" y="115.3" font-size="24.5" text-anchor="start" stroke="#141414" stroke-width="0.25" >PHEA+GO</text>
<rect x="924.4" y="589.5" width="189.10000000000002" height="60.5" rx="1.5" fill="#fff" stroke="#a4a4a4" stroke-width="1.5"/>
<line x1="931.5" y1="604.6" x2="984" y2="604.6" stroke="#0505dc" stroke-width="3.9" stroke-linecap="round"/>
<text x="990.3" y="612.6" font-size="24.5" text-anchor="start" stroke="#141414" stroke-width="0.25" >PHEA</text>
<line x1="931.5" y1="635.1" x2="984" y2="635.1" stroke="#e21212" stroke-width="3.9" stroke-linecap="round"/>
<text x="990.3" y="643.3" font-size="24.5" text-anchor="start" stroke="#141414" stroke-width="0.25" >PHEA+GO</text>
<text x="126.6" y="400.2" font-size="26.6" text-anchor="start" stroke="#141414" stroke-width="0.25" >low T</text>
<text x="133.4" y="945" font-size="26.8" text-anchor="start" stroke="#141414" stroke-width="0.25" >high T</text>
<text x="514.0" y="480.7" font-size="25" text-anchor="start" stroke="#141414" stroke-width="0.25" >1702</text>
<text x="674.1" y="484.1" font-size="29" text-anchor="start" stroke="#141414" stroke-width="0.25" >(a)</text>
<text x="676.8" y="1033.2" font-size="29" text-anchor="start" stroke="#141414" stroke-width="0.25" >(c)</text>
<text x="1415.7" y="474.5" font-size="29" text-anchor="start" stroke="#141414" stroke-width="0.25" >(b)</text>
<text x="1411.2" y="1015" font-size="29" text-anchor="start" stroke="#141414" stroke-width="0.25" >(d)</text>
<line x1="508.4" y1="457.2" x2="481.8" y2="439.8" stroke="#8c8c8c" stroke-width="0.9"/>
<polygon points="474.3,434.9 483.5,437.4 480.2,442.3" fill="#0a0a0a"/>
</svg>
</body></html>
